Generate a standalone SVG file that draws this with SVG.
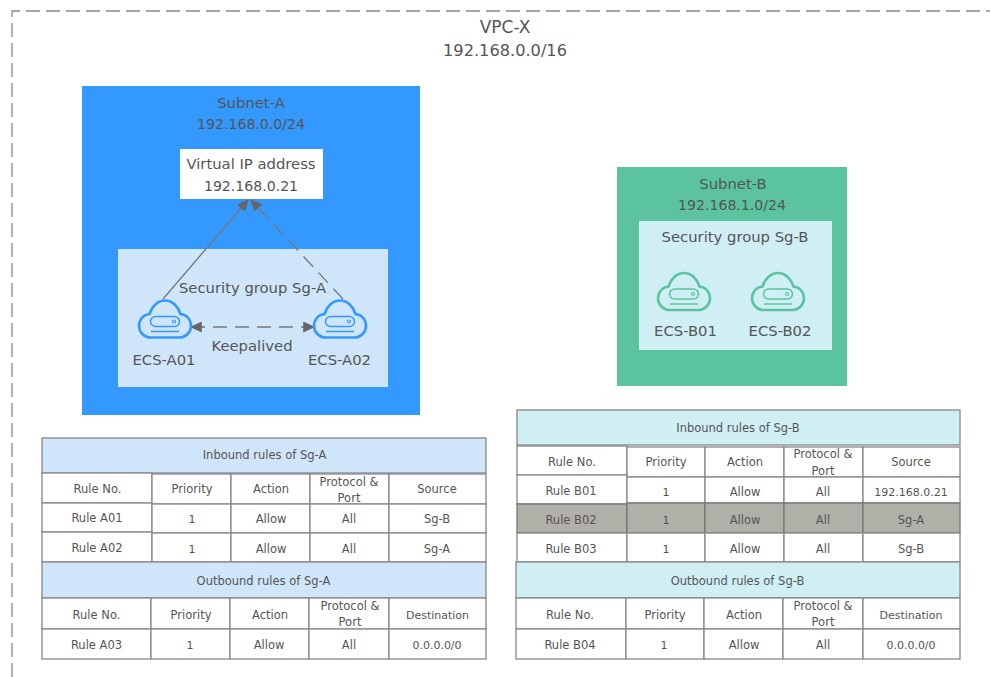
<svg xmlns="http://www.w3.org/2000/svg" xmlns:xlink="http://www.w3.org/1999/xlink" width="990" height="677" viewBox="0 0 990 677">
<style>
text{font-family:"DejaVu Sans",sans-serif;fill:#555;text-anchor:middle}
.t17{font-size:17px}.t16{font-size:16.200px}.t15{font-size:14.800px}.t14{font-size:14.100px}.t11{font-size:11.500px}.t10{font-size:11px}
.cell{fill:#fff;stroke:#888;stroke-width:1.3}
.hA{fill:#cfe5fa;stroke:#888;stroke-width:1.3}
.hB{fill:#d0eff5;stroke:#888;stroke-width:1.3}
.gray{fill:#b1b0a8;stroke:#777;stroke-width:1.3}
.link{fill:none;stroke:#777;stroke-width:1.3}
.dash{stroke-dasharray:14 8}
.ca{fill:none;stroke:#3399ff}.cb{fill:none;stroke:#5bc49f}
</style>
<defs>
<marker id="arr" viewBox="0 0 10 10" refX="9" refY="5" markerWidth="12" markerHeight="11" markerUnits="userSpaceOnUse" orient="auto-start-reverse" preserveAspectRatio="none"><path d="M0,0L10,5L0,10Z" fill="#666"/></marker>
<g id="cloud">
<path stroke-width="2.600" d="M-14,18.500H14C21,18.500 26,13 26,7C26,0.500 21.500,-4.500 15.500,-5C13,-13 7,-18.500 0,-18.500C-7,-18.500 -13,-13 -15.500,-5C-21.500,-4.500 -26,0.500 -26,7C-26,13 -21,18.500 -14,18.500Z"/>
<rect stroke-width="1.500" x="-14.500" y="-2.500" width="29" height="10" rx="5"/>
<circle cx="9" cy="2.500" r="1.500" stroke-width="1.200"/>
<path stroke-width="1.500" d="M-14,12.500H14"/>
</g>
</defs>
<g id="vpc">
<path d="M12,677V11H990" fill="none" stroke="#888" stroke-width="1.300" stroke-dasharray="14 6"/>
<text class="t17" x="505" y="33">VPC-X</text>
<text class="t16" x="505" y="56">192.168.0.0/16</text>
</g>
<g id="subnet-a">
<rect x="82" y="86" width="338" height="329" fill="#3399ff"/>
<text class="t15" x="251" y="108">Subnet-A</text>
<text class="t14" x="251" y="129">192.168.0.0/24</text>
</g>
<g id="sg-a">
<rect x="118" y="249" width="270" height="138" fill="#cfe5fa"/>
</g>
<g id="vip">
<rect x="180" y="149" width="143" height="50" fill="#fff"/>
<text class="t15" x="251" y="169">Virtual IP address</text>
<text class="t14" x="251" y="191">192.168.0.21</text>
</g>
<g id="connectors">
<path class="link" d="M163,299L248,200" marker-end="url(#arr)"/>
<path class="link dash" d="M343,299L251,200" marker-end="url(#arr)"/>
<path class="link dash" d="M191,327H314" marker-start="url(#arr)" marker-end="url(#arr)"/>
</g>
<g id="sg-a-label">
<text class="t15" x="252.500" y="293">Security group Sg-A</text>
<text class="t15" x="252" y="351">Keepalived</text>
</g>
<g id="ecs-a01"><use href="#cloud" x="165" y="319" class="ca"/><text class="t15" x="164" y="365">ECS-A01</text></g>
<g id="ecs-a02"><use href="#cloud" x="340" y="319" class="ca"/><text class="t15" x="339.500" y="365">ECS-A02</text></g>
<g id="subnet-b">
<rect x="617" y="167" width="230" height="219" fill="#5bc49f"/>
<text class="t15" x="733" y="189">Subnet-B</text>
<text class="t14" x="732" y="210">192.168.1.0/24</text>
</g>
<g id="sg-b">
<rect x="639" y="221" width="193" height="129" fill="#d0eff5"/>
<text class="t15" x="735" y="242">Security group Sg-B</text>
</g>
<g id="ecs-b01"><use href="#cloud" x="684" y="291.500" class="cb"/><text class="t15" x="685.500" y="336">ECS-B01</text></g>
<g id="ecs-b02"><use href="#cloud" x="778" y="291.500" class="cb"/><text class="t15" x="780" y="336">ECS-B02</text></g>
<g id="table-a">
<rect class="hA" x="42" y="438" width="444" height="35"/>
<text class="t11" x="264.500" y="459">Inbound rules of Sg-A</text>
<rect class="cell" x="42" y="473" width="110" height="30"/><rect class="cell" x="152" y="474" width="79" height="30"/><rect class="cell" x="231" y="474" width="79" height="30"/><rect class="cell" x="310" y="474" width="79" height="30"/><rect class="cell" x="389" y="474" width="97" height="30"/>
<rect class="cell" x="42" y="503" width="110" height="29"/><rect class="cell" x="152" y="504" width="79" height="29"/><rect class="cell" x="231" y="504" width="79" height="29"/><rect class="cell" x="310" y="504" width="79" height="29"/><rect class="cell" x="389" y="504" width="97" height="29"/>
<rect class="cell" x="42" y="532" width="110" height="30"/><rect class="cell" x="152" y="533" width="79" height="29"/><rect class="cell" x="231" y="533" width="79" height="29"/><rect class="cell" x="310" y="533" width="79" height="29"/><rect class="cell" x="389" y="533" width="97" height="29"/>
<text class="t11" x="97.500" y="493">Rule No.</text><text class="t11" x="192" y="493">Priority</text><text class="t11" x="271" y="493">Action</text><text class="t11" x="349" y="486">Protocol &amp;</text><text class="t11" x="349" y="502">Port</text><text class="t11" x="437" y="493">Source</text>
<text class="t11" x="97" y="522">Rule A01</text><text class="t10" x="192" y="523">1</text><text class="t11" x="271" y="523">Allow</text><text class="t11" x="349" y="523">All</text><text class="t11" x="437" y="523">Sg-B</text>
<text class="t11" x="97" y="552">Rule A02</text><text class="t10" x="192" y="553">1</text><text class="t11" x="271" y="553">Allow</text><text class="t11" x="349" y="553">All</text><text class="t11" x="437" y="553">Sg-A</text>
<rect class="hA" x="42" y="562" width="444" height="36"/>
<text class="t11" x="263.500" y="585">Outbound rules of Sg-A</text>
<rect class="cell" x="42" y="598" width="109" height="31"/><rect class="cell" x="151" y="598" width="79" height="31"/><rect class="cell" x="230" y="598" width="79" height="31"/><rect class="cell" x="309" y="598" width="80" height="31"/><rect class="cell" x="389" y="598" width="97" height="31"/>
<rect class="cell" x="42" y="629" width="109" height="30"/><rect class="cell" x="151" y="629" width="79" height="30"/><rect class="cell" x="230" y="629" width="79" height="30"/><rect class="cell" x="309" y="629" width="80" height="30"/><rect class="cell" x="389" y="629" width="97" height="30"/>
<text class="t11" x="96.500" y="619">Rule No.</text><text class="t11" x="191" y="619">Priority</text><text class="t11" x="270" y="619">Action</text><text class="t11" x="350" y="610">Protocol &amp;</text><text class="t11" x="350" y="626">Port</text><text class="t10" x="437.500" y="619">Destination</text>
<text class="t11" x="96.500" y="649">Rule A03</text><text class="t10" x="190" y="649">1</text><text class="t11" x="269" y="649">Allow</text><text class="t11" x="349" y="649">All</text><text class="t10" x="437" y="649">0.0.0.0/0</text>
</g>
<g id="table-b">
<rect class="hB" x="517" y="410" width="443" height="35"/>
<text class="t11" x="738" y="432">Inbound rules of Sg-B</text>
<rect class="cell" x="517" y="446" width="110" height="29"/><rect class="cell" x="627" y="447" width="78" height="30"/><rect class="cell" x="705" y="447" width="79" height="30"/><rect class="cell" x="784" y="447" width="79" height="30"/><rect class="cell" x="863" y="447" width="97" height="30"/>
<rect class="cell" x="517" y="475" width="110" height="29"/><rect class="cell" x="627" y="477" width="78" height="26"/><rect class="cell" x="705" y="477" width="79" height="26"/><rect class="cell" x="784" y="477" width="79" height="26"/><rect class="cell" x="863" y="477" width="97" height="26"/>
<rect class="gray" x="517" y="504" width="110" height="29"/><rect class="gray" x="627" y="503" width="78" height="30"/><rect class="gray" x="705" y="503" width="79" height="30"/><rect class="gray" x="784" y="503" width="79" height="30"/><rect class="gray" x="863" y="503" width="97" height="30"/>
<rect class="cell" x="517" y="533" width="110" height="29"/><rect class="cell" x="627" y="533" width="78" height="29"/><rect class="cell" x="705" y="533" width="79" height="29"/><rect class="cell" x="784" y="533" width="79" height="29"/><rect class="cell" x="863" y="533" width="97" height="29"/>
<text class="t11" x="572" y="466">Rule No.</text><text class="t11" x="666" y="466">Priority</text><text class="t11" x="745" y="466">Action</text><text class="t11" x="823" y="458">Protocol &amp;</text><text class="t11" x="823" y="475">Port</text><text class="t11" x="911" y="466">Source</text>
<text class="t11" x="571" y="495">Rule B01</text><text class="t10" x="666" y="496">1</text><text class="t11" x="745" y="496">Allow</text><text class="t11" x="823" y="496">All</text><text class="t10" x="911" y="496">192.168.0.21</text>
<text class="t11" x="571" y="524">Rule B02</text><text class="t10" x="666" y="524">1</text><text class="t11" x="745" y="524">Allow</text><text class="t11" x="823" y="524">All</text><text class="t11" x="911" y="524">Sg-A</text>
<text class="t11" x="571" y="553">Rule B03</text><text class="t10" x="666" y="553">1</text><text class="t11" x="745" y="553">Allow</text><text class="t11" x="823" y="553">All</text><text class="t11" x="911" y="553">Sg-B</text>
<rect class="hB" x="516" y="562" width="444" height="36"/>
<text class="t11" x="737.500" y="585">Outbound rules of Sg-B</text>
<rect class="cell" x="516" y="598" width="110" height="31"/><rect class="cell" x="626" y="598" width="78" height="31"/><rect class="cell" x="704" y="598" width="79" height="31"/><rect class="cell" x="783" y="598" width="80" height="31"/><rect class="cell" x="863" y="598" width="97" height="31"/>
<rect class="cell" x="516" y="629" width="110" height="30"/><rect class="cell" x="626" y="629" width="78" height="30"/><rect class="cell" x="704" y="629" width="79" height="30"/><rect class="cell" x="783" y="629" width="80" height="30"/><rect class="cell" x="863" y="629" width="97" height="30"/>
<text class="t11" x="570" y="619">Rule No.</text><text class="t11" x="665" y="619">Priority</text><text class="t11" x="744" y="619">Action</text><text class="t11" x="823" y="610">Protocol &amp;</text><text class="t11" x="823" y="626">Port</text><text class="t10" x="911" y="619">Destination</text>
<text class="t11" x="570" y="649">Rule B04</text><text class="t10" x="664" y="649">1</text><text class="t11" x="744" y="649">Allow</text><text class="t11" x="823" y="649">All</text><text class="t10" x="911" y="649">0.0.0.0/0</text>
</g>
</svg>
